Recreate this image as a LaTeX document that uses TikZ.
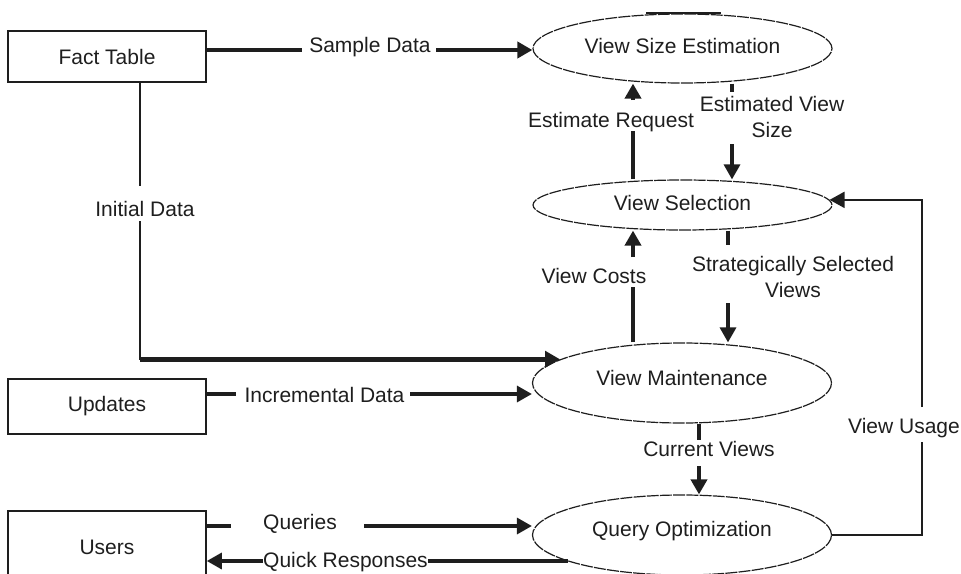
\documentclass[tikz,border=0pt]{standalone}
\usepackage{fontspec}
\setmainfont{Liberation Sans}
\usetikzlibrary{arrows.meta,shapes.geometric}
\definecolor{ink}{HTML}{1E1E1E}
\begin{document}
\begin{tikzpicture}[x=1pt,y=-1pt,
  every node/.style={text=ink},
  lbl/.style={inner sep=0pt,font=\fontsize{21}{26}\selectfont},
  box/.style={draw=ink,line width=1.6pt,rectangle,minimum width=198pt,inner sep=0pt,font=\fontsize{21}{26}\selectfont},
  proc/.style={draw=ink,line width=1.2pt,dash pattern=on 12pt off 1.2pt,ellipse,minimum width=299pt,inner sep=0pt,font=\fontsize{21}{26}\selectfont},
  heavy/.style={draw=ink,line width=4.5pt},
  medium/.style={draw=ink,line width=3.3pt},
  light/.style={draw=ink,line width=2pt},
  arr/.style={-{Triangle[length=15pt,width=16pt]}},
]
\useasboundingbox (0,0) rectangle (961,573);
\clip (0,0) rectangle (961,573);

% external entities
\node[box,minimum height=51pt] (fact) at (107,56.5) {Fact Table};
\node[box,minimum height=55pt] (upd) at (107,406.5) {Updates};
\node[box,minimum height=72pt] (users) at (107,547) {Users};

% processes
\node[proc,minimum height=69pt,text depth=6pt] (vse) at (682.5,48.5) {View Size Estimation};
\node[proc,minimum height=50pt,text depth=5pt] (vs) at (682.5,205) {View Selection};
\node[proc,minimum height=80pt,text depth=10pt] (vm) at (682,383) {View Maintenance};
\node[proc,minimum height=80pt,text depth=12pt] (qo) at (682,535) {Query Optimization};
\draw[light] ([xshift=-36.5pt]vse.north) -- ([xshift=38.5pt]vse.north);

% labels
\node[lbl,anchor=base] (sd) at (370,52) {Sample Data};
\node[lbl,anchor=base] (idl) at (145,216) {Initial Data};
\node[lbl,anchor=base] (er) at (611,127) {Estimate Request};
\node[lbl,anchor=north,align=center] (ev) at (772,96.5) {Estimated View\\Size};
\node[lbl,anchor=base] (vc) at (594,283) {View Costs};
\node[lbl,anchor=north,align=center] (ss) at (793,256.5) {Strategically Selected\\Views};
\node[lbl,anchor=base] (inc) at (324.5,402) {Incremental Data};
\node[lbl,anchor=base] (qu) at (300,529) {Queries};
\node[lbl,anchor=base] (qr) at (345.5,567) {Quick Responses};
\node[lbl,anchor=base] (cv) at (709,456) {Current Views};
\node[lbl,anchor=base] (vu) at (904,433) {View Usage};

% gap ends
\coordinate (sd1) at (302,50); \coordinate (sd2) at (436,50);
\coordinate (id1) at (140,186); \coordinate (id2) at (140,222);
\coordinate (er1) at (633,131); \coordinate (er2) at (633,100);
\coordinate (ev1) at (732,92); \coordinate (ev2) at (732,144);
\coordinate (vc1) at (633,287); \coordinate (vc2) at (633,257);
\coordinate (ss1) at (728,245); \coordinate (ss2) at (728,303);
\coordinate (in1) at (236,394); \coordinate (in2) at (410,394);
\coordinate (q1) at (231,526); \coordinate (q2) at (364,526);
\coordinate (qr1) at (428,561); \coordinate (qr2) at (263,561);
\coordinate (cv1) at (699,440); \coordinate (cv2) at (699,466);
\coordinate (vu1) at (922,442); \coordinate (vu2) at (922,407);

% connectors
\draw[heavy] (fact.east |- sd1) -- (sd1);
\draw[heavy,arr] (sd2) -- (sd2 -| vse.west);

\draw[light] (fact.south -| id1) -- (id1);
\draw[light,line cap=rect] (id2) -- (id2 |- vm.169);
\draw[heavy,arr] (id2 |- vm.169) -- (vm.169);

\draw[heavy] (er1 |- vs.north) -- (er1);
\draw[heavy,arr] (er2) -- (er2 |- vse.south);

\draw[medium] (ev1 |- vse.south) -- (ev1);
\draw[medium,arr] (ev2) -- (ev2 |- vs.north);

\draw[heavy] (vc1 |- vm.north) -- (vc1);
\draw[heavy,arr] (vc2) -- (vc2 |- vs.south);

\draw[medium] (ss1 |- vs.south) -- (ss1);
\draw[medium,arr] (ss2) -- (ss2 |- vm.north);

\draw[medium] (upd.east |- in1) -- (in1);
\draw[medium,arr] (in2) -- (in2 -| vm.west);

\draw[medium] (users.east |- q1) -- (q1);
\draw[medium,arr] (q2) -- (q2 -| qo.west);

\draw[medium] (qr1 -| qo.193) -- (qr1);
\draw[medium,arr] (qr2) -- (qr2 -| users.east);

\draw[heavy] (cv1 |- vm.south) -- (cv1);
\draw[heavy,arr] (cv2) -- (cv2 |- qo.north);

\draw[light] (qo.east) -| (vu1);
\draw[light,arr] (vu2) |- (vs.2);
\end{tikzpicture}
\end{document}
